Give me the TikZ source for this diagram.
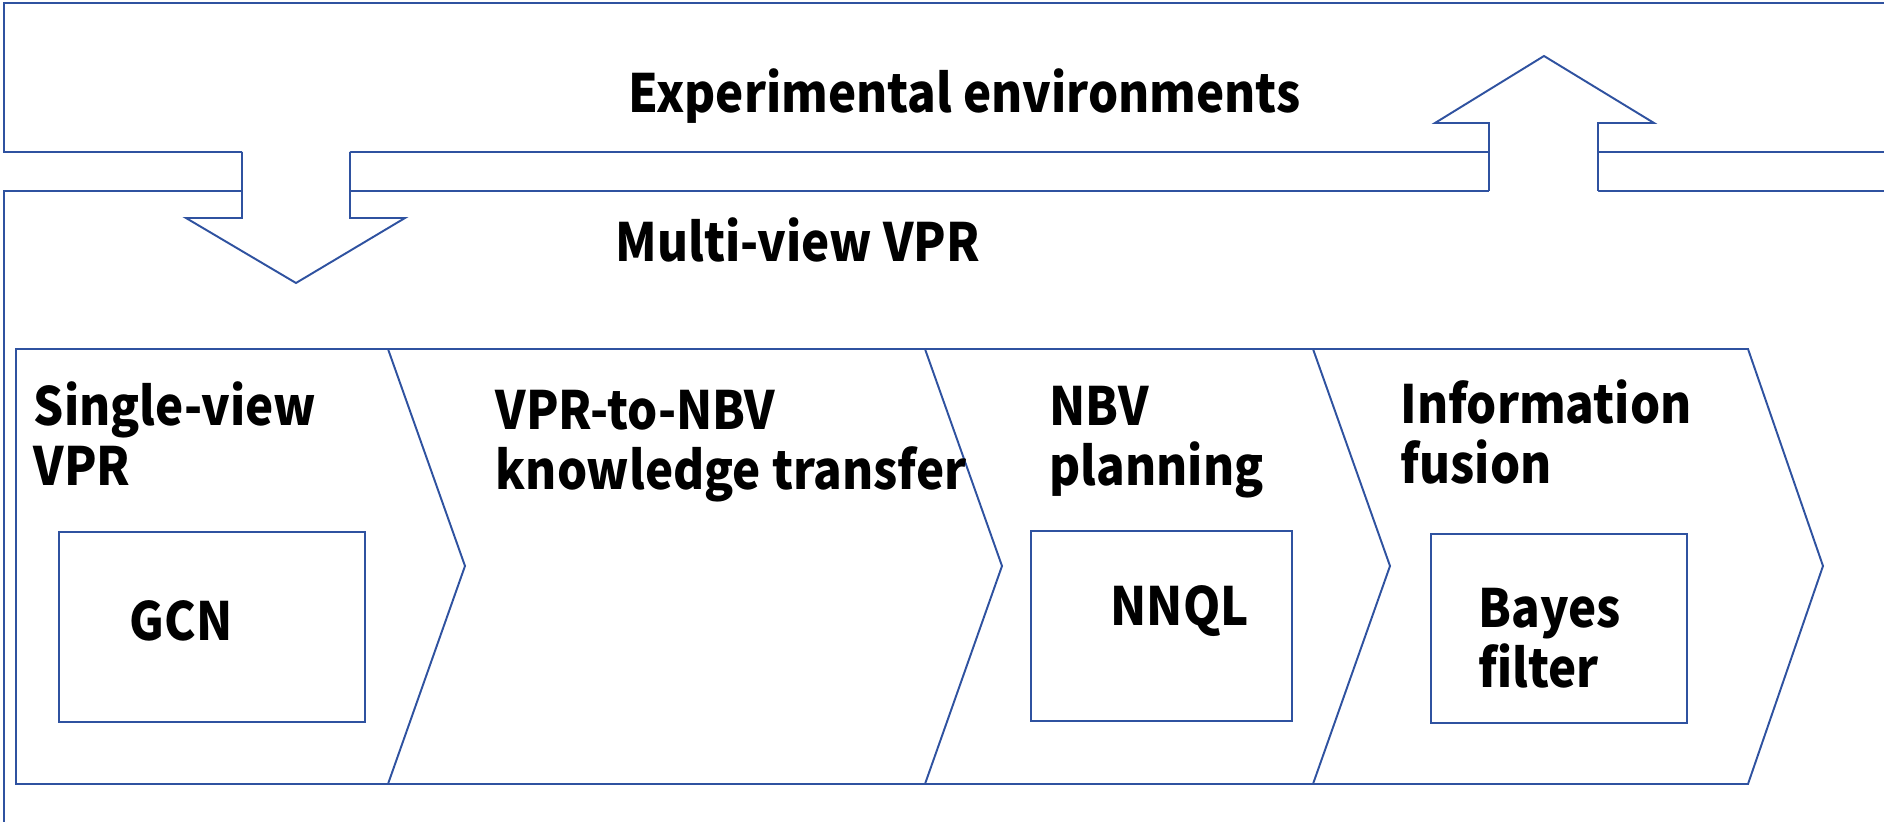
\documentclass[tikz,border=0pt]{standalone}
\usepackage{fontspec}
\setmainfont{Noto Sans CJK JP}[FakeStretch=0.9]
\usepackage{tikz}
\usetikzlibrary{positioning}
\definecolor{frameblue}{RGB}{47,82,160}

\begin{document}
\begin{tikzpicture}[
  x=0.01cm,y=-0.01cm,
  line join=miter,
  frame/.style={draw=frameblue,line width=0.55pt},
  chev/.style={draw=frameblue,line width=0.55pt},
  blockarrow/.style={draw=frameblue,line width=0.55pt},
  innerbox/.style={draw=frameblue,line width=0.55pt,inner sep=0pt},
  lbl/.style={font=\bfseries\fontsize{15}{17.2}\selectfont,inner sep=0pt,
    anchor=base west,align=left}
]
\useasboundingbox (0,0) rectangle (1884,822);

% Experimental environments (open to the right)
\draw[frame] (1884,3) -- (4,3) -- (4,152) -- (1884,152);
\node[lbl] (env) at (628,113) {Experimental environments};

% Multi-view VPR frame
\draw[frame] (1884,191) -- (4,191) -- (4,822);
\node[lbl] (multi) at (615,262) {Multi-view VPR};

% chevron row
\draw[chev] (16,349) -- (388,349) -- (465,566) -- (388,784) -- (16,784) -- cycle;
\draw[chev] (388,349) -- (925,349) -- (1002,566) -- (925,784) -- (388,784);
\draw[chev] (925,349) -- (1313,349) -- (1390,566) -- (1313,784) -- (925,784);
\draw[chev] (1313,349) -- (1748,349) -- (1823,566) -- (1748,784) -- (1313,784);

% stage titles (placed by their last line)
\node[lbl] (single) at (33,486) {Single-view\\VPR};
\node[lbl] (transfer) at (495,490) {VPR-to-NBV\\knowledge transfer};
\node[lbl] (nbv) at (1049,486) {NBV\\planning};
\node[lbl] (fusion) at (1400,484) {Information\\fusion};

% method boxes
\node[innerbox,minimum width=3.06cm,minimum height=1.90cm] (gcnbox) at (212,627) {};
\node[innerbox,minimum width=2.61cm,minimum height=1.90cm] (nnqlbox) at (1161.5,626) {};
\node[innerbox,minimum width=2.56cm,minimum height=1.89cm] (bayesbox) at (1559,628.5) {};

\node[lbl] (gcn) at (129,641) {GCN};
\node[lbl] (nnql) at (1110,626) {NNQL};
\node[lbl] (bayes) at (1478,688) {Bayes\\filter};

% down arrow
\fill[white] (242,149) -- (242,218) -- (186,218) -- (296,283) -- (405,218)
  -- (350,218) -- (350,149) -- cycle;
\draw[blockarrow] (242,152) -- (242,218) -- (186,218) -- (296,283) -- (405,218)
  -- (350,218) -- (350,152);

% up arrow
\fill[white] (1489,194) -- (1489,123) -- (1435,123) -- (1544,56) -- (1654,123)
  -- (1598,123) -- (1598,194) -- cycle;
\draw[blockarrow] (1489,191) -- (1489,123) -- (1435,123) -- (1544,56) -- (1654,123)
  -- (1598,123) -- (1598,191);

\end{tikzpicture}
\end{document}
